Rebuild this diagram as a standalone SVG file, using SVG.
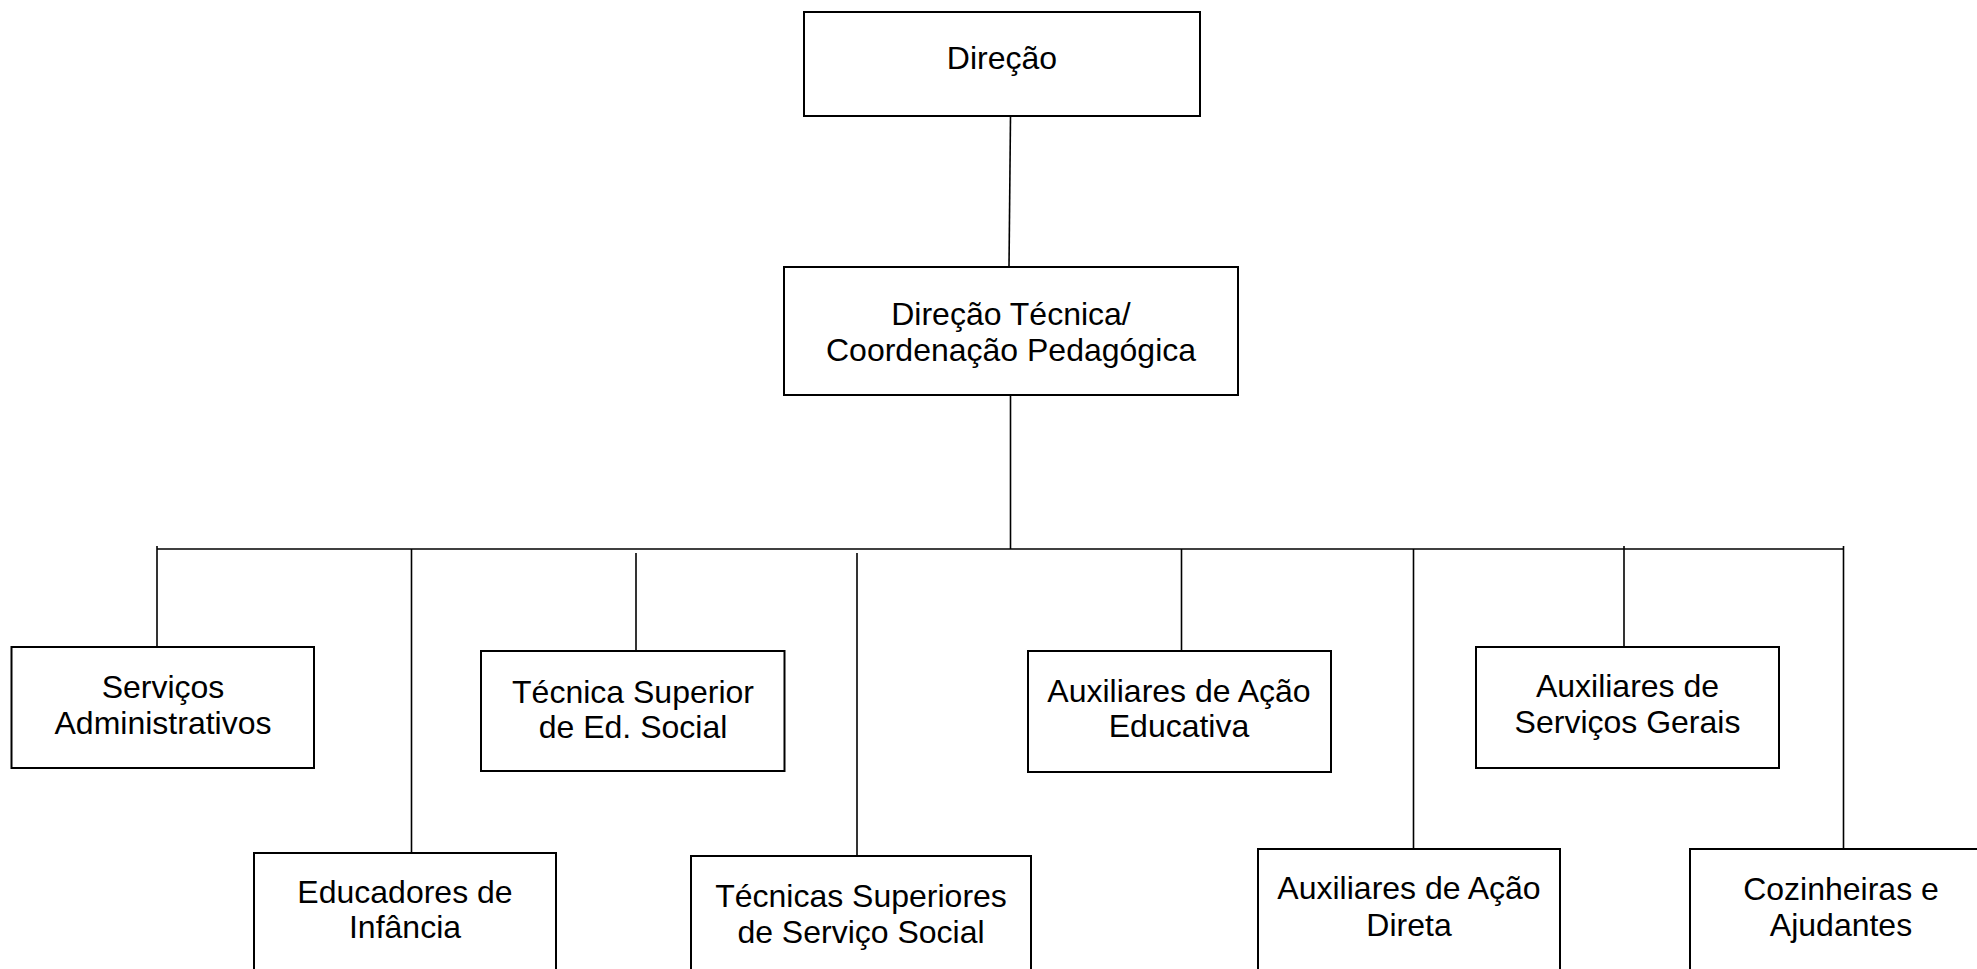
<svg xmlns="http://www.w3.org/2000/svg" width="1977" height="969" viewBox="0 0 1977 969">
<style>
.box{fill:#fff;stroke:#000;stroke-width:2}
.ln{stroke:#000;stroke-width:1.6;fill:none}
text{font-family:"Liberation Sans",Arial,sans-serif;font-size:32px;fill:#000;text-anchor:middle}
</style>
<rect x="0" y="0" width="1977" height="969" fill="#fff"/>
<g id="connectors">
<line class="ln" x1="1010.5" y1="116" x2="1009" y2="267"/>
<line class="ln" x1="1010.5" y1="395" x2="1010.5" y2="549"/>
<line class="ln" x1="157" y1="549" x2="1843.5" y2="549"/>
<line class="ln" x1="157" y1="546" x2="157" y2="647"/>
<line class="ln" x1="411.5" y1="549" x2="411.5" y2="853"/>
<line class="ln" x1="636" y1="553" x2="636" y2="651"/>
<line class="ln" x1="857" y1="553" x2="857" y2="856"/>
<line class="ln" x1="1181.5" y1="549" x2="1181.5" y2="651"/>
<line class="ln" x1="1413.5" y1="549" x2="1413.5" y2="849"/>
<line class="ln" x1="1624" y1="546" x2="1624" y2="647"/>
<line class="ln" x1="1843.5" y1="546" x2="1843.5" y2="849"/>
</g>
<g id="n-direcao">
<rect class="box" x="804" y="12" width="396" height="104"/>
<text x="1002" y="69">Direção</text>
</g>
<g id="n-direcao-tecnica">
<rect class="box" x="784" y="267" width="454" height="128"/>
<text x="1011" y="325">Direção Técnica/</text>
<text x="1011" y="361">Coordenação Pedagógica</text>
</g>
<g id="n-servicos-adm">
<rect class="box" x="11.5" y="647" width="302.5" height="121"/>
<text x="163" y="698">Serviços</text>
<text x="163" y="734">Administrativos</text>
</g>
<g id="n-educadores">
<rect class="box" x="254" y="853" width="302" height="140"/>
<text x="405" y="903">Educadores de</text>
<text x="405" y="938">Infância</text>
</g>
<g id="n-tecnica-ed-social">
<rect class="box" x="481" y="651" width="303.5" height="120"/>
<text x="633" y="703">Técnica Superior</text>
<text x="633" y="738">de Ed. Social</text>
</g>
<g id="n-tecnicas-servico-social">
<rect class="box" x="691" y="856" width="340" height="140"/>
<text x="861" y="907">Técnicas Superiores</text>
<text x="861" y="943">de Serviço Social</text>
</g>
<g id="n-aux-acao-educativa">
<rect class="box" x="1028" y="651" width="303" height="121"/>
<text x="1179" y="702">Auxiliares de Ação</text>
<text x="1179" y="737">Educativa</text>
</g>
<g id="n-aux-acao-direta">
<rect class="box" x="1258" y="849" width="302" height="140"/>
<text x="1409" y="899">Auxiliares de Ação</text>
<text x="1409" y="936">Direta</text>
</g>
<g id="n-aux-servicos-gerais">
<rect class="box" x="1476" y="647" width="303" height="121"/>
<text x="1627.5" y="697">Auxiliares de</text>
<text x="1627.5" y="733">Serviços Gerais</text>
</g>
<g id="n-cozinheiras">
<rect class="box" x="1690" y="849" width="302" height="140"/>
<text x="1841" y="900">Cozinheiras e</text>
<text x="1841" y="936">Ajudantes</text>
</g>
</svg>
